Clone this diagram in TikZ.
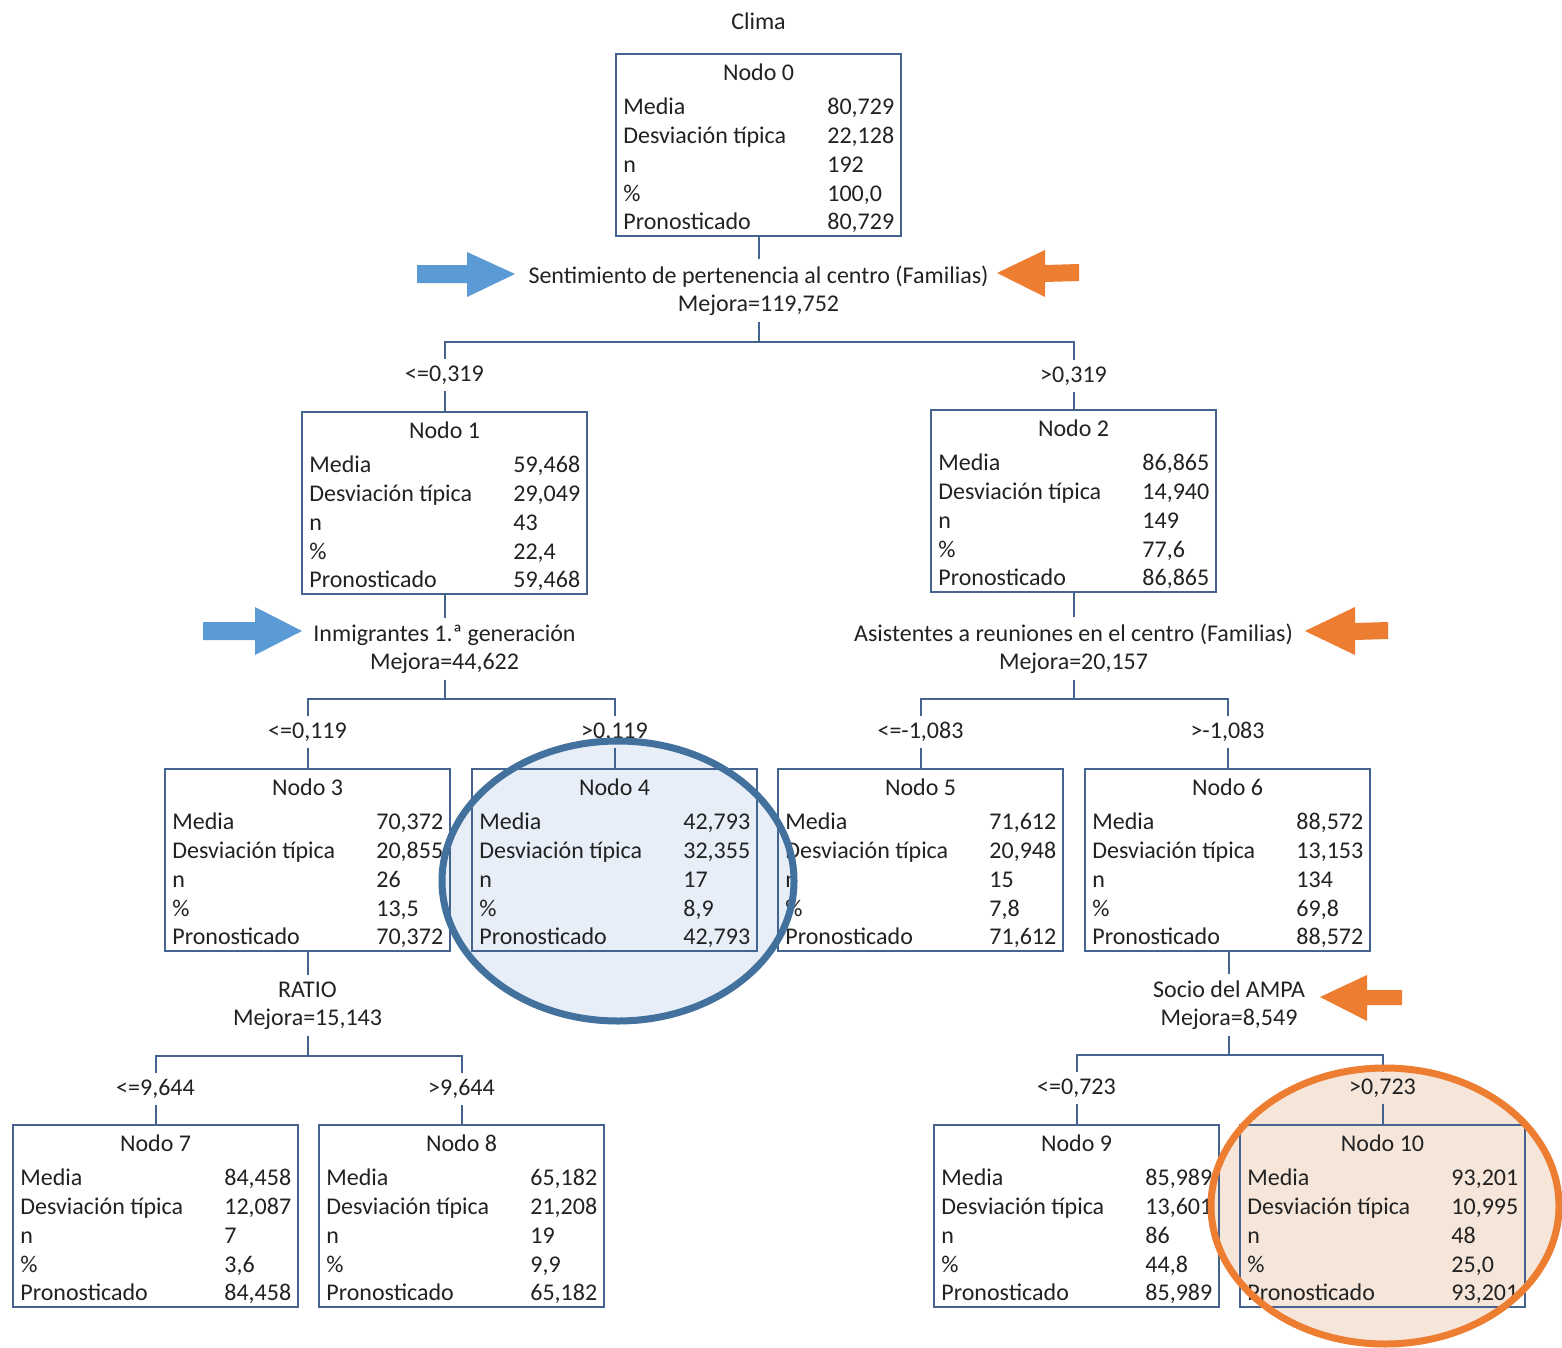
\documentclass[tikz,border=0pt]{standalone}
\usepackage{fontspec}
\setmainfont{Carlito}
\definecolor{edgec}{HTML}{44638F}
\definecolor{txtc}{HTML}{222222}
\definecolor{bluearr}{HTML}{5B9BD5}
\definecolor{orangearr}{HTML}{ED7D31}
\definecolor{blueell}{HTML}{41719C}
\definecolor{bluefill}{HTML}{E7EEF8}
\definecolor{orangefill}{HTML}{F6E6DA}
\tikzset{
  treebox/.style={draw=edgec, line width=1pt, minimum width=142.5pt, minimum height=91pt, inner sep=0pt, outer sep=0pt, anchor=north west},
  txt/.style={font=\fontsize{12}{14}\selectfont, text=txtc, inner sep=0pt},
  rowlab/.style={txt, anchor=mid west},
  splitlab/.style={txt, align=center, inner sep=3pt},
  condlab/.style={txt, inner sep=3pt},
  conn/.style={draw=edgec, line width=1pt},
  bluearrow/.style={fill=bluearr, draw=none},
  orangearrow/.style={fill=orangearr, draw=none},
}
\newcommand{\treenode}[9]{%
  \node[treebox] (#1) at (#2,#3) {};
  \node[txt] (#1-t) at ([shift={(142.5,18)}]#1.north west) {#4};
  \node[rowlab] (#1-l1) at ([shift={(7,56)}]#1.north west) {Media};
  \node[rowlab] (#1-v1) at ([shift={(211,56)}]#1.north west) {#5};
  \node[rowlab] (#1-l2) at ([shift={(7,85)}]#1.north west) {Desviación típica};
  \node[rowlab] (#1-v2) at ([shift={(211,85)}]#1.north west) {#6};
  \node[rowlab] (#1-l3) at ([shift={(7,114)}]#1.north west) {n};
  \node[rowlab] (#1-v3) at ([shift={(211,114)}]#1.north west) {#7};
  \node[rowlab] (#1-l4) at ([shift={(7,143)}]#1.north west) {\%};
  \node[rowlab] (#1-v4) at ([shift={(211,143)}]#1.north west) {#8};
  \node[rowlab] (#1-l5) at ([shift={(7,171)}]#1.north west) {Pronosticado};
  \node[rowlab] (#1-v5) at ([shift={(211,171)}]#1.north west) {#9};
}
\begin{document}
\begin{tikzpicture}[x=0.5pt, y=-0.5pt]
\useasboundingbox (0,0) rectangle (1562,1348);
\fill[white] (0,0) rectangle (1562,1348);

% highlight fills (behind)
\fill[bluefill] (618,881) ellipse [x radius=88pt, y radius=70pt];
\fill[orangefill] (1385,1206) ellipse [x radius=87pt, y radius=69pt];

\node[txt] (title) at (758.5,21) {Clima};

\treenode{n0}{616}{54}{Nodo 0}{80,729}{22,128}{192}{100,0}{80,729}
\treenode{n1}{302}{412}{Nodo 1}{59,468}{29,049}{43}{22,4}{59,468}
\treenode{n2}{931}{410}{Nodo 2}{86,865}{14,940}{149}{77,6}{86,865}
\treenode{n3}{165}{769}{Nodo 3}{70,372}{20,855}{26}{13,5}{70,372}
\treenode{n4}{472}{769}{Nodo 4}{42,793}{32,355}{17}{8,9}{42,793}
\treenode{n5}{778}{769}{Nodo 5}{71,612}{20,948}{15}{7,8}{71,612}
\treenode{n6}{1085}{769}{Nodo 6}{88,572}{13,153}{134}{69,8}{88,572}
\treenode{n7}{13}{1125}{Nodo 7}{84,458}{12,087}{7}{3,6}{84,458}
\treenode{n8}{319}{1125}{Nodo 8}{65,182}{21,208}{19}{9,9}{65,182}
\treenode{n9}{934}{1125}{Nodo 9}{85,989}{13,601}{86}{44,8}{85,989}
\treenode{n10}{1240}{1125}{Nodo 10}{93,201}{10,995}{48}{25,0}{93,201}

% split labels
\node[splitlab] (s0) at (758.5,290.5) {Sentimiento de pertenencia al centro (Familias)\\Mejora=119,752};
\node[splitlab] (s1) at (444.5,649) {Inmigrantes 1.ª generación\\Mejora=44,622};
\node[splitlab] (s2) at (1073.5,648.5) {Asistentes a reuniones en el centro (Familias)\\Mejora=20,157};
\node[splitlab] (s3) at (307.5,1005.5) {RATIO\\Mejora=15,143};
\node[splitlab] (s4) at (1229,1005) {Socio del AMPA\\Mejora=8,549};

% condition labels
\node[condlab] (c01) at (444.5,375) {<=0,319};
\node[condlab] (c02) at (1073.5,376) {>0,319};
\node[condlab] (c11) at (307.5,732) {<=0,119};
\node[condlab] (c12) at (614.5,732) {>0,119};
\node[condlab] (c21) at (920.5,732) {<=-1,083};
\node[condlab] (c22) at (1227.5,732) {>-1,083};
\node[condlab] (c31) at (155.5,1089) {<=9,644};
\node[condlab] (c32) at (461.5,1089) {>9,644};
\node[condlab] (c41) at (1076.5,1088) {<=0,723};
\node[condlab] (c42) at (1382.5,1088) {>0,723};

% bar junctions
\coordinate (b0) at (758.5,342);
\coordinate (b1) at (444.5,699);
\coordinate (b2) at (1073.5,699);
\coordinate (b3) at (307.5,1056);
\coordinate (b4) at (1229,1055);

% connectors
\draw[conn] (n0.south) -- (s0.north);
\draw[conn] (s0.south) -- (b0);
\draw[conn] (c01.north) |- (b0) -| (c02.north);
\draw[conn] (c01.south) -- (n1.north);
\draw[conn] (c02.south) -- (n2.north);

\draw[conn] (n1.south) -- (s1.north);
\draw[conn] (s1.south) -- (b1);
\draw[conn] (c11.north) |- (b1) -| (c12.north);
\draw[conn] (c11.south) -- (n3.north);
\draw[conn] (c12.south) -- (n4.north);

\draw[conn] (n2.south) -- (s2.north);
\draw[conn] (s2.south) -- (b2);
\draw[conn] (c21.north) |- (b2) -| (c22.north);
\draw[conn] (c21.south) -- (n5.north);
\draw[conn] (c22.south) -- (n6.north);

\draw[conn] (n3.south) -- (s3.north);
\draw[conn] (s3.south) -- (b3);
\draw[conn] (c31.north) |- (b3) -| (c32.north);
\draw[conn] (c31.south) -- (n7.north);
\draw[conn] (c32.south) -- (n8.north);

\draw[conn] (n6.south -| s4.north) -- (s4.north);
\draw[conn] (s4.south) -- (b4);
\draw[conn] (c41.north) |- (b4) -| (c42.north);
\draw[conn] (c41.south) -- (n9.north);
\draw[conn] (c42.south) -- (n10.north);

% arrows
\fill[bluearrow] (417,265) -- (467,265) -- (467,252) -- (515,274) -- (467,297) -- (467,283) -- (417,283) -- cycle;
\fill[orangearrow] (1079,264) -- (1045,265) -- (1045,250) -- (997,273) -- (1045,297) -- (1045,282) -- (1079,281) -- cycle;
\fill[bluearrow] (203,622) -- (255,622) -- (255,607) -- (302,631) -- (255,655) -- (255,640) -- (203,640) -- cycle;
\fill[orangearrow] (1388,622) -- (1355,623) -- (1355,607) -- (1305,631) -- (1355,655) -- (1355,640) -- (1388,639) -- cycle;
\fill[orangearrow] (1402,990) -- (1367,990) -- (1367,975) -- (1320,997) -- (1367,1021) -- (1367,1005) -- (1402,1005) -- cycle;

% highlight strokes (on top)
\draw[blueell, line width=3.5pt] (618,881) ellipse [x radius=88pt, y radius=70pt];
\draw[orangearr, line width=3.5pt] (1385,1206) ellipse [x radius=87pt, y radius=69pt];
\end{tikzpicture}
\end{document}
